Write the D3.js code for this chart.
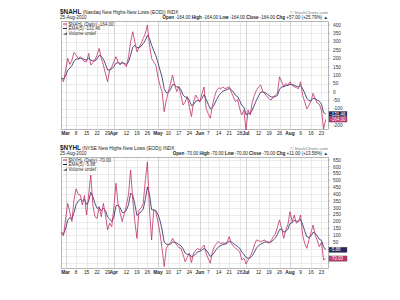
<!DOCTYPE html>
<html><head><meta charset="utf-8">
<script src="https://cdn.jsdelivr.net/npm/d3@7"></script>
<style>body{margin:0;background:#fff}svg{display:block;font-family:"Liberation Sans",Arial,sans-serif}</style>
</head><body><svg id="c" width="400" height="300"></svg>
<script>
// ---- data ----
const startDate = "2010-02-25", endDate = "2010-08-25";
const holidays = ["2010-04-02","2010-05-31","2010-07-05"];
const nahl = [82,61,130,201,165,190,237,220,200,211,195,181,
181,231,161,175,191,220,261,200,161,110,
61,131,150,180,211,180,161,181,165,151,
211,300,360,300,240,265,290,320,350,400,
280,201,180,161,91,40,2,-118,-50,2,
50,101,40,2,32,-20,-78,-60,-28,-90,
-147,-60,-18,-40,-60,-10,30,-100,-130,-157,
-80,-28,10,25,20,30,20,25,32,0,
-30,-58,-45,-100,-137,-110,-227,-107,-137,-60,
-20,10,30,42,2,-10,-28,-40,-48,-30,
-20,-8,91,60,32,52,40,61,40,32,
26,20,61,-20,-58,-101,-80,-54,-8,-40,
-67,-73,-110,-221,-164];
const nahlEma = [85,77,95,130,142,158,184,196,197,202,200,194,
190,204,190,185,187,198,219,213,196,167,
132,132,138,152,172,175,170,174,171,164,
180,220,267,278,265,265,273,289,309,339,
319,280,247,218,176,131,88,19,-4,-2,
15,44,43,29,30,13,-17,-31,-30,-50,
-82,-75,-56,-51,-54,-39,-16,-44,-73,-101,
-94,-72,-45,-22,-8,5,10,15,21,14,
-1,-20,-28,-52,-80,-90,-136,-126,-130,-107,
-78,-49,-23,-1,0,-3,-11,-21,-30,-30,
-27,-21,16,31,31,38,39,46,44,40,
35,30,40,20,-6,-38,-52,-53,-38,-39,
-48,-56,-74,-123,-131.46];
const nyhl = [119,95,220,333,270,200,360,440,400,394,321,390,
248,400,540,321,236,224,309,236,333,250,
139,188,163,300,480,333,260,200,260,321,
400,577,360,200,78,285,300,333,500,637,
285,66,285,270,200,115,0,-129,5,30,
42,78,50,29,10,5,-40,-93,-60,-31,
-100,-31,-10,5,-7,10,29,-31,-70,-104,
-20,20,40,53,40,45,42,50,90,40,
20,5,-5,-20,-80,-68,-109,-80,-56,-20,
30,66,60,55,60,66,50,42,60,90,
110,160,212,150,78,139,180,272,200,248,
188,200,248,102,40,5,66,120,175,102,
60,17,50,-81,-70];
const nyhlEma = [119,111,147,209,229,219,266,324,349,364,350,363,
325,350,413,382,333,297,301,279,297,281,
234,219,200,233,315,321,301,267,265,284,
323,408,392,328,245,258,272,292,361,453,
397,287,286,281,254,208,139,50,35,33,
36,50,50,43,32,23,2,-30,-40,-37,
-58,-49,-36,-22,-17,-8,4,-8,-29,-54,
-43,-22,-1,17,25,32,35,40,57,51,
41,29,18,5,-23,-38,-62,-68,-64,-49,
-23,7,25,35,43,51,51,48,52,65,
80,107,142,145,123,128,145,187,191,210,
203,202,217,179,133,90,82,95,122,115,
97,70,63,15,-5.88];
const tickDates = ["2010-03-01","2010-03-08","2010-03-15","2010-03-22","2010-03-29","2010-04-01","2010-04-12","2010-04-19","2010-04-26","2010-05-03","2010-05-10","2010-05-17","2010-05-24","2010-06-01","2010-06-07","2010-06-14","2010-06-21","2010-06-28","2010-07-01","2010-07-12","2010-07-19","2010-07-26","2010-08-02","2010-08-09","2010-08-16","2010-08-23"];
const tickLabels = ["Mar","8","15","22","29","Apr","12","19","26","May","10","17","24","Jun","7","14","21","28","Jul","12","19","26","Aug","9","16","23"];
const yTicksTop = [-200,-150,-100,-50,0,50,100,150,200,250,300,350,400];
const yTicksBot = [-100,-50,0,50,100,150,200,250,300,350,400,450,500,550,600,650];

const panels = [
  {sym:"$NAHL", desc:" (Nasdaq New Highs-New Lows (EOD)) INDX", close:"-164.00", chg:"+57.00 (+25.79%)",
   price:nahl, ema:nahlEma, emaLabel:"-131.46", ticks:yTicksTop, top:21, bottom:129, dom:[-221,424]},
  {sym:"$NYHL", desc:" (NYSE New Highs-New Lows (EOD)) INDX", close:"-70.00", chg:"+11.00 (+13.58%)",
   price:nyhl, ema:nyhlEma, emaLabel:"-5.88", ticks:yTicksBot, top:157, bottom:268, dom:[-139,672]}
];

// ---- trading calendar ----
const fmt = d3.timeFormat("%Y-%m-%d"), parse = d3.timeParse("%Y-%m-%d");
const days = d3.timeDay.range(parse(startDate), d3.timeDay.offset(parse(endDate),1))
  .filter(d => d.getDay()!==0 && d.getDay()!==6 && !holidays.includes(fmt(d))).map(fmt);
const L = 61, R = 328;
const x = d3.scaleLinear().domain([-0.2, 127.1]).range([L, R]);
const xi = s => x(days.indexOf(s));

const svg = d3.select("#c");
const RED = "#c2306a", NAVY = "#26265e";

panels.forEach(p => {
  const y = d3.scaleLinear().domain(p.dom).range([p.bottom, p.top]);
  const g = svg.append("g");
  const boxes = [{v:p.ema[p.ema.length-1], t:p.emaLabel, c:NAVY},{v:p.price[p.price.length-1], t:p.close, c:RED}];
  const freeTicks = p.ticks.filter(t => boxes.every(b => Math.abs(y(t)-y(b.v)) > 4.5));
  // grid
  g.selectAll(".hg").data(p.ticks).join("line")
    .attr("x1",L).attr("x2",R).attr("y1",d=>Math.round(y(d))+0.5).attr("y2",d=>Math.round(y(d))+0.5)
    .attr("stroke","#dedede").attr("stroke-width",0.6);
  g.selectAll(".vg").data(tickDates).join("line")
    .attr("x1",d=>Math.round(xi(d))+0.5).attr("x2",d=>Math.round(xi(d))+0.5).attr("y1",p.top).attr("y2",p.bottom)
    .attr("stroke",(d,i)=>isNaN(+tickLabels[i])?"#bbbbbb":"#dedede").attr("stroke-width",0.6);
  // frame
  g.append("rect").attr("x",L+0.5).attr("y",p.top+0.5).attr("width",R-L).attr("height",p.bottom-p.top)
    .attr("fill","none").attr("stroke","#999").attr("stroke-width",0.7);
  // lines
  const line = d3.line().x((d,i)=>x(i)).y(d=>y(d));
  g.append("path").datum(p.ema).attr("d",line).attr("fill","none").attr("stroke",NAVY).attr("stroke-width",0.8);
  g.append("path").datum(p.price).attr("d",line).attr("fill","none").attr("stroke",RED).attr("stroke-width",0.8);
  // y axis labels (right)
  g.selectAll(".yl").data(freeTicks).join("text")
    .attr("x",333).attr("y",d=>y(d)+1.7).attr("font-size",4.8).attr("fill","#333").text(d=>d);
  g.selectAll(".yt").data(p.ticks).join("line")
    .attr("x1",R).attr("x2",R+2).attr("y1",d=>y(d)).attr("y2",d=>y(d)).attr("stroke","#999").attr("stroke-width",0.5);
  // value boxes
  boxes.forEach(b=>{
    g.append("rect").attr("x",R+1).attr("y",y(b.v)-2.6).attr("width",18).attr("height",5.2)
      .attr("fill",b.c).attr("stroke","#555").attr("stroke-width",0.4);
    g.append("text").attr("x",R+2.2).attr("y",y(b.v)+1.6).attr("font-size",4.5).attr("fill","#fff").text(b.t);
  });
  // x labels
  g.selectAll(".xl").data(tickDates).join("text")
    .attr("x",d=>xi(d)).attr("y",p.bottom+5.5).attr("text-anchor","middle").attr("font-size",4.8)
    .attr("font-weight",(d,i)=>isNaN(+tickLabels[i])?"bold":"normal").attr("fill","#222")
    .text((d,i)=>tickLabels[i]);
  // header
  const h = g.append("text").attr("x",60).attr("y",p.top-7).attr("fill","#222");
  h.append("tspan").attr("font-size",6.4).attr("font-weight","bold").text(p.sym);
  h.append("tspan").attr("font-size",4.8).text(p.desc);
  g.append("text").attr("x",60).attr("y",p.top-2).attr("font-size",4.6).attr("fill","#222").text("25-Aug-2010");
  g.append("text").attr("x",R).attr("y",p.top-7.5).attr("text-anchor","end").attr("font-size",4.4).attr("fill","#777").text("© StockCharts.com");
  const o = g.append("text").attr("x",R).attr("y",p.top-2).attr("text-anchor","end").attr("font-size",4.5).attr("fill","#222");
  [["Open ",p.close],["High ",p.close],["Low ",p.close],["Close ",p.close]].forEach(([k,v])=>{
    o.append("tspan").attr("font-weight","bold").text(k);
    o.append("tspan").text(v+" ");
  });
  o.append("tspan").attr("font-weight","bold").text("Chg ");
  o.append("tspan").text(p.chg+" \u25B2");
  // legend
  const lg = [[RED, p.sym+" (Daily) "+p.close],[NAVY,"EMA(5) "+p.emaLabel]];
  lg.forEach((l,i)=>{
    const yy = p.top+3+i*4.5;
    g.append("line").attr("x1",63).attr("x2",67).attr("y1",yy).attr("y2",yy).attr("stroke",l[0]).attr("stroke-width",1);
    g.append("text").attr("x",68.5).attr("y",yy+1.6).attr("font-size",4.5).attr("fill","#333").text(l[1]);
  });
  g.append("path").attr("d",`M63,${p.top+13.8}h4v-2.5z`).attr("fill","#555");
  g.append("text").attr("x",68.5).attr("y",p.top+13.7).attr("font-size",4.5).attr("fill","#333").text("Volume undef");
});
</script></body></html>
